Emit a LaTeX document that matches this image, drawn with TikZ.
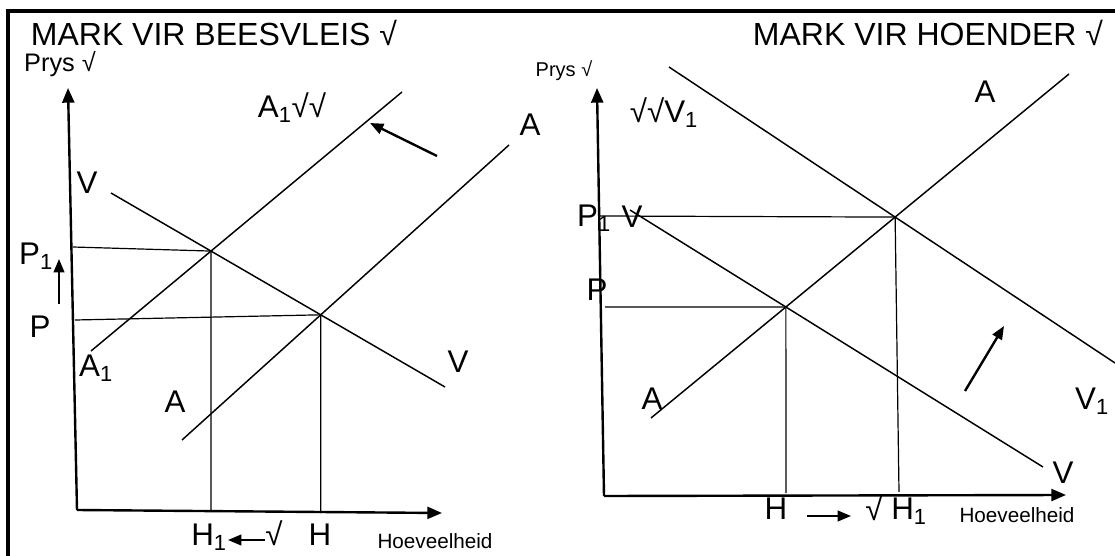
\documentclass[tikz,border=0pt]{standalone}
\usepackage{fontspec}
\setmainfont{Liberation Sans}
\usetikzlibrary{arrows.meta, positioning}

\begin{document}
\begin{tikzpicture}[
    x=0.75pt, y=-0.75pt,
    lbl/.style={inner sep=0pt, font=\fontsize{23.5}{23.5}\selectfont},
    ttl/.style={inner sep=0pt, font=\fontsize{24}{24}\selectfont},
    prys/.style={inner sep=0pt, font=\fontsize{19}{19}\selectfont},
    small/.style={inner sep=0pt, font=\fontsize{15.5}{15.5}\selectfont},
    curve/.style={draw=black, line width=1.1pt},
    guide/.style={draw=black, line width=0.9pt},
    axis/.style={draw=black, line width=1.8pt, -{Triangle[length=11pt,width=9pt]}},
    move/.style={draw=black, line width=1.8pt, -{Triangle[length=10pt,width=8pt]}},
    frame/.style={draw=black, line width=2.6pt}
]
\useasboundingbox (0,0) rectangle (1115,556);
\draw[frame] (1115,11) -- (8,11) -- (8,556);

% --- beef market
\coordinate (bO) at (77,510);
\draw[axis] (bO) -- (68,88);
\draw[axis] (bO) -- (442,513);

\coordinate (bV1) at (111,193);  \coordinate (bV2) at (445,387);
\coordinate (bA1a) at (91,351);  \coordinate (bA1b) at (402,92);
\coordinate (bAa) at (182,440);  \coordinate (bAb) at (509,145);
\draw[curve] (bV1) -- (bV2);
\draw[curve] (bA1a) -- (bA1b);
\draw[curve] (bAa) -- (bAb);

\coordinate (bE1) at (intersection of bV1--bV2 and bA1a--bA1b);
\coordinate (bE0) at (intersection of bV1--bV2 and bAa--bAb);
\draw[guide] (73,247) -- (bE1) -- (bE1 |- 0,511);
\draw[guide] (75,320) -- (bE0) -- (bE0 |- 0,513);

\draw[move] (437,156) -- (370,123);
\draw[move, line width=1.5pt] (59,304) -- (59,259);
\draw[move, line width=1.5pt] (265,540) -- (228,540);

\node[ttl]  (bTitle) at (214,33)  {MARK VIR BEESVLEIS √};
\node[prys] (bPrys)  at (60,64)   {Prys √};
\node[lbl]  (bA1top) at (292,108) {A\textsubscript{1}√√};
\node[lbl]  (bAtop)  at (530,125) {A};
\node[lbl]  (bVtop)  at (87,183)  {V};
\node[lbl]  (bP1)    at (36,256)  {P\textsubscript{1}};
\node[lbl]  (bP)     at (40,327)  {P};
\node[lbl]  (bA1low) at (96,368)  {A\textsubscript{1}};
\node[lbl]  (bAlow)  at (175,402) {A};
\node[lbl]  (bVlow)  at (458,362) {V};
\node[lbl]  (bH1)    at (209,537) {H\textsubscript{1}};
\node[lbl]  (bTick)  at (274,533) {√};
\node[lbl]  (bH)     at (320,535) {H};
\node[small] (bHoev) at (435,541) {Hoeveelheid};

% --- chicken market
\coordinate (cO) at (604,496);
\draw[axis] (cO) -- (597,88);
\draw[axis] (cO) -- (1066,495);

\coordinate (cV1a) at (669,67);  \coordinate (cV1b) at (1115,363);
\coordinate (cVa) at (630,210);  \coordinate (cVb) at (1043,467);
\coordinate (cAa) at (651,418);  \coordinate (cAb) at (1069,74);
\draw[curve] (cV1a) -- (cV1b);
\draw[curve] (cVa) -- (cVb);
\draw[curve] (cAa) -- (cAb);

\coordinate (cE1) at (intersection of cV1a--cV1b and cAa--cAb);
\coordinate (cE0) at (intersection of cVa--cVb and cAa--cAb);
\draw[guide] (600,216) -- (cE1) -- (899,492);
\draw[guide] (605,307) -- (cE0) -- (786,493);

\draw[move] (965,391) -- (1004,326);
\draw[move, line width=1.5pt] (807,516) -- (851,516);

\node[ttl]  (cTitle) at (928,33)  {MARK VIR HOENDER √};
\node[inner sep=0pt, font=\fontsize{15}{15}\selectfont] (cPrys) at (564,71) {Prys √};
\node[lbl]  (cV1top) at (664,113) {√√V\textsubscript{1}};
\node[lbl]  (cAtop)  at (985,92)  {A};
\node[lbl]  (cP1)    at (594,218) {P\textsubscript{1}};
\node[lbl]  (cVtop)  at (632,217) {V};
\node[lbl]  (cP)     at (597,290) {P};
\node[lbl]  (cAlow)  at (652,399) {A};
\node[lbl]  (cV1low) at (1092,401) {V\textsubscript{1}};
\node[lbl]  (cVlow)  at (1063,473) {V};
\node[lbl]  (cH)     at (776,509) {H};
\node[lbl]  (cTick)  at (874,508) {√};
\node[lbl]  (cH1)    at (909,511) {H\textsubscript{1}};
\node[small] (cHoev) at (1017,515) {Hoeveelheid};
\end{tikzpicture}
\end{document}
